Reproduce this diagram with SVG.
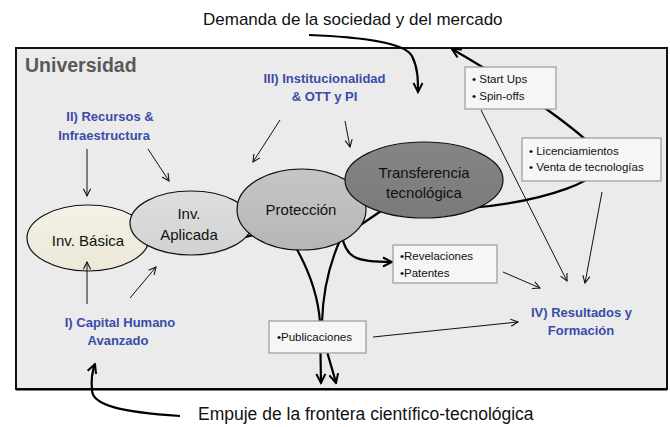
<svg xmlns="http://www.w3.org/2000/svg" width="670" height="427" viewBox="0 0 670 427">
<style>
.title{font-family:"Liberation Sans",Arial,sans-serif;font-size:17px;fill:#111}
.univ{font-family:"Liberation Sans",Arial,sans-serif;font-size:19.5px;font-weight:bold;fill:#595959}
.blue{font-family:"Liberation Sans",Arial,sans-serif;font-size:13px;font-weight:bold;fill:#3a4ba8;text-anchor:middle}
.el{font-family:"Liberation Sans",Arial,sans-serif;font-size:15px;fill:#111;text-anchor:middle}
.bx{font-family:"Liberation Sans",Arial,sans-serif;font-size:11.5px;fill:#111}
.box{fill:#f6f6f6;stroke:#9a9a9a;stroke-width:1.2}
.ell{stroke:#111;stroke-width:1.2}
.thin{fill:none;stroke:#111;stroke-width:1;marker-end:url(#ah)}
.thick{fill:none;stroke:#000;stroke-width:2.2}
.thickA{fill:none;stroke:#000;stroke-width:2.2;marker-end:url(#AH)}
</style>
<defs>
<marker id="ah" markerUnits="userSpaceOnUse" viewBox="0 0 10 10" refX="9" refY="5" markerWidth="9" markerHeight="9" orient="auto">
<path d="M1,1 L9,5 L1,9" fill="none" stroke="#111" stroke-width="1.2"/>
</marker>
<marker id="AH" markerUnits="userSpaceOnUse" viewBox="0 0 12 12" refX="10.5" refY="6" markerWidth="12" markerHeight="12" orient="auto">
<path d="M1.5,1.5 L10.5,6 L1.5,10.5" fill="none" stroke="#000" stroke-width="2"/>
</marker>
<linearGradient id="gB" x1="0" y1="0" x2="0" y2="1"><stop offset="0" stop-color="#f4f2e6"/><stop offset="1" stop-color="#ebe8d8"/></linearGradient>
<linearGradient id="gA" x1="0" y1="0" x2="0" y2="1"><stop offset="0" stop-color="#dedede"/><stop offset="1" stop-color="#d2d2d2"/></linearGradient>
<linearGradient id="gP" x1="0" y1="0" x2="0" y2="1"><stop offset="0" stop-color="#c6c6c6"/><stop offset="1" stop-color="#b6b6b6"/></linearGradient>
<linearGradient id="gT" x1="0" y1="0" x2="0" y2="1"><stop offset="0" stop-color="#858585"/><stop offset="1" stop-color="#7a7a7a"/></linearGradient>
</defs>
<rect width="670" height="427" fill="#ffffff"/>
<g id="universidad">
<rect x="16" y="48" width="651" height="341" fill="#ebebeb" stroke="#111" stroke-width="2"/>
<line x1="16" y1="389.5" x2="667" y2="389.5" stroke="#000" stroke-width="2"/>
<text class="univ" x="25" y="72">Universidad</text>
</g>
<text class="title" x="203" y="25">Demanda de la sociedad y del mercado</text>
<text class="title" x="198" y="420" style="font-size:17.5px">Empuje de la frontera científico-tecnológica</text>
<g id="connectors-back">
<path class="thickA" d="M309,35 C360,37 404,42 412,56 C418,68 418,80 418,92"/>
<path class="thickA" d="M180,416 C120,412 92,405 92,390 C91,380 92,372 95,364"/>
<path class="thick" d="M225,242 L262,233"/>
<path class="thick" d="M350,232 L390,205"/>
<path class="thickA" d="M470,208 C540,202 615,180 600,155 C590,140 540,100 452,49"/>
<path class="thickA" d="M342,236 C346,258 356,262 392,262"/>
<path class="thickA" d="M295,246 C310,272 318,295 320,322 L321,383"/>
<path class="thickA" d="M341,238 C330,262 323,290 322,322 C322,340 330,360 336,383"/>
</g>
<g id="inv-basica">
<ellipse class="ell" cx="88" cy="238" rx="61" ry="33" fill="url(#gB)"/>
<text class="el" x="88" y="246">Inv. Básica</text>
</g>
<g id="inv-aplicada">
<ellipse class="ell" cx="191" cy="223" rx="61" ry="32" fill="url(#gA)"/>
<text class="el" x="189" y="219">Inv.</text>
<text class="el" x="189" y="240">Aplicada</text>
</g>
<g id="proteccion">
<ellipse class="ell" cx="301.5" cy="209.5" rx="64.5" ry="40.5" fill="url(#gP)"/>
<text class="el" x="301" y="215">Protección</text>
</g>
<g id="transferencia">
<ellipse class="ell" cx="424" cy="180" rx="79" ry="38" fill="url(#gT)"/>
<text class="el" x="424" y="178">Transferencia</text>
<text class="el" x="424" y="198">tecnológica</text>
</g>
<g id="recursos">
<text class="blue" x="110" y="121">II) Recursos &amp;</text>
<text class="blue" x="104" y="140">Infraestructura</text>
</g>
<g id="institucionalidad">
<text class="blue" x="324.5" y="83">III) Institucionalidad</text>
<text class="blue" x="324.5" y="101">&amp; OTT y PI</text>
</g>
<g id="capital-humano">
<text class="blue" x="120" y="327">I) Capital Humano</text>
<text class="blue" x="118" y="345">Avanzado</text>
</g>
<g id="resultados">
<text class="blue" x="581.5" y="317">IV) Resultados y</text>
<text class="blue" x="581" y="335">Formación</text>
</g>
<g id="startups">
<rect class="box" x="465" y="67" width="91" height="42"/>
<text class="bx" x="472" y="83">• Start Ups</text>
<text class="bx" x="472" y="100">• Spin-offs</text>
</g>
<g id="licenciamientos">
<rect class="box" x="522" y="138" width="139" height="43"/>
<text class="bx" x="529" y="155">• Licenciamientos</text>
<text class="bx" x="529" y="171">• Venta de tecnologías</text>
</g>
<g id="revelaciones">
<rect class="box" x="393" y="245" width="104" height="38"/>
<text class="bx" x="400" y="260">•Revelaciones</text>
<text class="bx" x="400" y="277">•Patentes</text>
</g>
<g id="publicaciones">
<rect class="box" x="269" y="321" width="97" height="32"/>
<text class="bx" x="277" y="341">•Publicaciones</text>
</g>
<g id="connectors">
<line class="thin" x1="87" y1="149" x2="87" y2="196"/>
<line class="thin" x1="148" y1="149" x2="169" y2="181"/>
<line class="thin" x1="87" y1="304" x2="87" y2="262"/>
<line class="thin" x1="130" y1="298" x2="156" y2="267"/>
<line class="thin" x1="280" y1="120" x2="253" y2="162"/>
<line class="thin" x1="345" y1="121" x2="350" y2="147"/>
<line class="thin" x1="481" y1="110" x2="567" y2="281"/>
<line class="thin" x1="602" y1="192" x2="585" y2="283"/>
<line class="thin" x1="503" y1="272" x2="540" y2="288"/>
<line class="thin" x1="373" y1="337" x2="518" y2="322"/>
</g>
</svg>
